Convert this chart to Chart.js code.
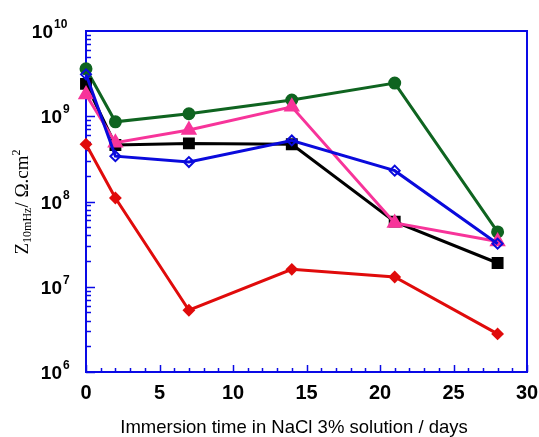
<!DOCTYPE html>
<html>
<head>
<meta charset="utf-8">
<script src="https://cdn.jsdelivr.net/npm/chart.js@4/dist/chart.umd.min.js"></script>
<style>
  html, body { margin: 0; padding: 0; background: #fff; }
  #c { display: block; }
</style>
</head>
<body>
<canvas id="c" width="539" height="437"></canvas>
<script>
// ---- data ----
const days = [0, 2, 7, 14, 21, 28];
const greenCircle   = [3.6e9, 8.6e8, 1.07e9, 1.55e9, 2.45e9, 4.4e7];
const blueDiamond   = [3.1e9, 3.4e8, 2.9e8, 5.2e8, 2.3e8, 3.2e7];
const blackSquare   = [2.4e9, 4.6e8, 4.8e8, 4.7e8, 5.8e7, 1.9e7];
const pinkTriangle  = [1.8e9, 4.9e8, 6.9e8, 1.29e9, 5.6e7, 3.4e7];
const redDiamond    = [4.7e8, 1.1e8, 5.3e6, 1.6e7, 1.3e7, 2.8e6];
const xTicks = [0, 5, 10, 15, 20, 25, 30];
const yExponents = [6, 7, 8, 9, 10];
const xTitle = 'Immersion time in NaCl 3% solution / days';

const AXIS = '#0a0ae6';
const SANS = '"Liberation Sans", Arial, sans-serif';
const SERIF = '"Liberation Serif", "Times New Roman", serif';

function pts(arr) { return days.map((d, i) => ({ x: d, y: arr[i] })); }

const axesPlugin = {
  id: 'axesPlugin',
  beforeDatasetsDraw(chart) {
    const { ctx, chartArea: a, scales } = chart;
    const xs = scales.x, ys = scales.y;
    ctx.save();
    ctx.strokeStyle = AXIS;
    ctx.lineWidth = 2;
    ctx.strokeRect(a.left, a.top, a.right - a.left, a.bottom - a.top);
    ctx.lineWidth = 1.5;
    for (let v = 0; v <= 30; v++) {
      const px = Math.round(xs.getPixelForValue(v)) + 0.5;
      const len = v % 5 === 0 ? 7 : 4;
      ctx.beginPath(); ctx.moveTo(px, a.bottom); ctx.lineTo(px, a.bottom - len); ctx.stroke();
    }
    for (let e = 6; e <= 9; e++) {
      for (let m = 1; m <= 9; m++) {
        const v = m * Math.pow(10, e);
        const py = Math.round(ys.getPixelForValue(v)) + 0.5;
        const len = m === 1 ? 9 : 5;
        ctx.beginPath(); ctx.moveTo(a.left, py); ctx.lineTo(a.left + len, py); ctx.stroke();
      }
    }
    ctx.restore();
  },
  afterDraw(chart) {
    const { ctx, scales } = chart;
    const xs = scales.x, ys = scales.y;
    ctx.save();
    ctx.fillStyle = '#000';
    ctx.font = 'bold 20px ' + SANS;
    ctx.textAlign = 'center';
    ctx.textBaseline = 'alphabetic';
    xTicks.forEach(v => ctx.fillText(String(v), xs.getPixelForValue(v), 399));
    yExponents.forEach(e => {
      const py = ys.getPixelForValue(Math.pow(10, e));
      const exp = String(e);
      const baseRight = 62 - (exp.length - 1) * 9;
      ctx.font = 'bold 19px ' + SANS;
      ctx.textAlign = 'right';
      ctx.fillText('10', baseRight, py + 7);
      ctx.font = 'bold 12px ' + SANS;
      ctx.textAlign = 'left';
      ctx.fillText(exp, baseRight + 1, py - 3);
    });
    ctx.font = '18.5px ' + SANS;
    ctx.textAlign = 'center';
    ctx.fillText(xTitle, 294, 433);
    ctx.translate(28, 202);
    ctx.rotate(-Math.PI / 2);
    const parts = [
      { t: 'Z', f: '19px ' + SERIF, dy: 0 },
      { t: '10mHz', f: '12px ' + SERIF, dy: 3 },
      { t: '/ \u03A9.cm', f: '19px ' + SERIF, dy: 0 },
      { t: '2', f: '12px ' + SERIF, dy: -8 }
    ];
    let total = 0;
    parts.forEach(p => { ctx.font = p.f; p.w = ctx.measureText(p.t).width; total += p.w; });
    let x = -total / 2;
    ctx.textAlign = 'left';
    parts.forEach(p => { ctx.font = p.f; ctx.fillText(p.t, x, p.dy); x += p.w; });
    ctx.restore();
  }
};

function ds(label, data, color, style, radius, fill, order) {
  return {
    label, data: pts(data),
    borderColor: color, backgroundColor: color,
    pointStyle: style, pointRadius: radius, pointHoverRadius: radius,
    pointBackgroundColor: fill, pointBorderColor: color, pointBorderWidth: 2,
    borderWidth: 3, tension: 0, clip: false, order
  };
}

new Chart(document.getElementById('c'), {
  type: 'line',
  data: {
    datasets: [
      ds('red', redDiamond, '#e00b0b', 'rectRot', 5, '#e00b0b', 0),
      ds('blue', blueDiamond, '#0a0adc', 'rectRot', 5, 'rgba(0,0,0,0)', 1),
      ds('pink', pinkTriangle, '#f7349a', 'triangle', 7.5, '#f7349a', 2),
      ds('black', blackSquare, '#000000', 'rect', 7, '#000000', 3),
      ds('green', greenCircle, '#0f6420', 'circle', 5.5, '#0f6420', 4)
    ]
  },
  options: {
    responsive: false,
    devicePixelRatio: 1,
    animation: false,
    layout: { padding: { left: 86, top: 31, right: 12, bottom: 65 } },
    plugins: { legend: { display: false }, tooltip: { enabled: false } },
    scales: {
      x: { type: 'linear', min: 0, max: 30, display: false },
      y: { type: 'logarithmic', min: 1e6, max: 1e10, display: false }
    }
  },
  plugins: [axesPlugin]
});
</script>
</body>
</html>
